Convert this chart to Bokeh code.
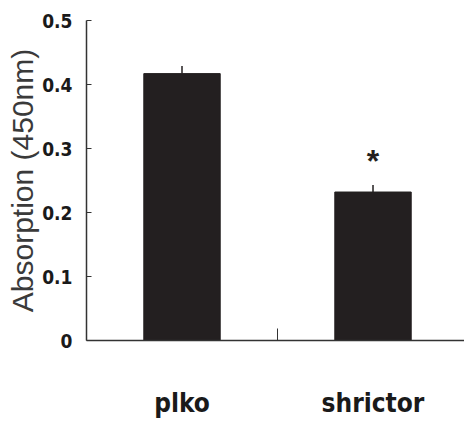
from bokeh.plotting import figure
from bokeh.models import Range1d, FixedTicker, ColumnDataSource
from bokeh.core.properties import value
from bokeh.embed import file_html
from bokeh.resources import INLINE

categories = ["plko", "shrictor"]
absorption = [0.417, 0.232]
errors = [0.012, 0.011]
significance = ["", "*"]
y_ticks = [0, 0.1, 0.2, 0.3, 0.4, 0.5]
y_tick_labels = ["0", "0.1", "0.2", "0.3", "0.4", "0.5"]

xs = [i + 0.5 for i in range(len(categories))]
src = ColumnDataSource(dict(
    x=xs, top=absorption,
    etop=[v + e for v, e in zip(absorption, errors)],
    sy=[v + e + 0.037 for v, e in zip(absorption, errors)],
    sig=significance,
))

COND = "DejaVu Sans Condensed"

p = figure(width=464, height=422, output_backend="svg", toolbar_location=None,
           x_range=Range1d(0, 1.979), y_range=Range1d(0, 0.5),
           min_border_left=86, min_border_right=0, min_border_top=20, min_border_bottom=82)
p.xgrid.visible = False
p.ygrid.visible = False
p.outline_line_color = None
p.background_fill_color = "white"
p.border_fill_color = "white"

p.vbar(x="x", top="top", width=0.40, bottom=0, source=src,
       fill_color="#231f20", line_color="#231f20")
p.segment(x0="x", y0="top", x1="x", y1="etop", source=src, line_color="#231f20", line_width=1.5)
p.text(x="x", y="sy", text="sig", source=src, text_align="center", text_baseline="middle",
       text_font=value("Liberation Sans"), text_font_size="32px", text_color="#231f20",
       text_font_style="bold")

# y axis
ya = p.yaxis[0]
ya.ticker = FixedTicker(ticks=y_ticks)
ya.major_label_overrides = {t: l for t, l in zip(y_ticks, y_tick_labels)}
ya.major_tick_in = 5
ya.major_tick_out = 0
ya.minor_tick_line_color = None
ya.major_label_standoff = 14
ya.major_label_text_font = COND
ya.major_label_text_font_style = "bold"
ya.major_label_text_font_size = "19px"
ya.major_label_text_color = "#1a1a1a"
ya.axis_line_color = "#333333"
ya.axis_line_width = 1.5
ya.major_tick_line_color = "#333333"
ya.axis_label = "Absorption (450nm)"
ya.axis_label_text_font = "Liberation Sans"
ya.axis_label_text_font_style = "normal"
ya.axis_label_text_font_size = "30px"
ya.axis_label_text_color = "#3a3a3a"
ya.axis_label_standoff = 0

# x axis
xa = p.xaxis[0]
xa.ticker = FixedTicker(ticks=xs, minor_ticks=[1.0, 2.0])
xa.major_label_overrides = {x: c for x, c in zip(xs, categories)}
xa.major_tick_in = 0
xa.major_tick_out = 0
xa.major_tick_line_color = None
xa.minor_tick_in = 12
xa.minor_tick_out = 0
xa.minor_tick_line_color = "#333333"
xa.major_label_standoff = 47
xa.major_label_text_font = COND
xa.major_label_text_font_style = "bold"
xa.major_label_text_font_size = "26px"
xa.major_label_text_color = "#1a1a1a"
xa.axis_line_color = "#333333"
xa.axis_line_width = 1.5

open("out.html", "w").write(file_html(p, INLINE))
